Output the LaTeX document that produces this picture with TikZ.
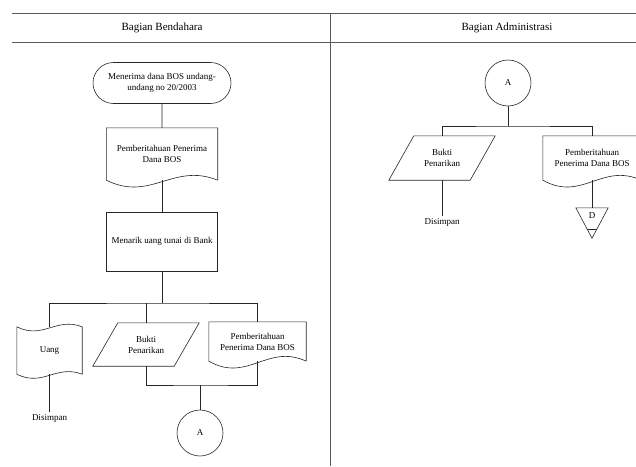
\documentclass[tikz,border=0pt]{standalone}
\usepackage{fontspec}
\setmainfont{Liberation Serif}
\usepackage{tikz}
\usetikzlibrary{positioning}
\usetikzlibrary{shapes.misc, calc}

\newcommand{\docshape}[1]{\draw[flowline] (#1.south east) -- (#1.north east) -- (#1.north west) -- (#1.south west)
  .. controls ($(#1.south west)!0.4!(#1.south east)+(0,22)$) and ($(#1.south west)!0.6!(#1.south east)+(0,-18)$) .. (#1.south east);}
\newcommand{\tapeshape}[1]{\draw[flowline] (#1.north west)
  .. controls ($(#1.north west)!0.4!(#1.north east)+(0,13)$) and ($(#1.north west)!0.6!(#1.north east)+(0,-10)$) .. (#1.north east)
  -- (#1.south east)
  .. controls ($(#1.south west)!0.6!(#1.south east)+(0,-10)$) and ($(#1.south west)!0.4!(#1.south east)+(0,13)$) .. (#1.south west) -- cycle;}
\newcommand{\parashape}[1]{\draw[flowline] ([xshift=-12.5]#1.south west) -- ([xshift=12.5]#1.north west) -- ([xshift=12.5]#1.north east) -- ([xshift=-12.5]#1.south east) -- cycle;}
\newcommand{\offshape}[1]{\draw[flowline] (#1.north west) -- (#1.north east) -- (#1.south) -- cycle;
  \draw[flowline] ($(#1.north west)!0.7!(#1.south)$) -- ($(#1.north east)!0.7!(#1.south)$);}

\begin{document}
\begin{tikzpicture}[x=1pt,y=-1pt,
  flowline/.style={draw=black!85,line width=0.6pt},
  lane/.style={draw=black!65,line width=1pt},
  txt/.style={font=\fontsize{9}{11}\selectfont,align=center,inner sep=2pt},
  lanetitle/.style={font=\fontsize{11}{13}\selectfont}]
\useasboundingbox (0,0) rectangle (636,466);
\clip (0,0) rectangle (636,466);

% lanes
\draw[lane] (12,13) -- (636,13);
\draw[lane] (12,42) -- (636,42);
\draw[lane] (330,13) -- (330,466);
\node[lanetitle] (laneBend) at (162,28) {Bagian Bendahara};
\node[lanetitle] (laneAdm) at (507,28) {Bagian Administrasi};

% Bagian Bendahara
\node[rounded rectangle,flowline,txt,minimum width=142,minimum height=41] (terima) at (162,83) {Menerima dana BOS undang-\\undang no 20/2003};
\node[txt,minimum width=111,minimum height=52] (beritaA) at (162,154) {Pemberitahuan Penerima\\Dana BOS};
\docshape{beritaA}
\node[txt,flowline,minimum width=111,minimum height=59] (tarik) at (162,241.5) {Menarik uang tunai di Bank};
\coordinate (busA) at (162,303);
\node[txt,minimum width=65,minimum height=47] (uang) at (49.5,350.5) {Uang};
\tapeshape{uang}
\node[txt,minimum width=81,minimum height=43] (buktiA) at (146,344.5) {Bukti\\Penarikan};
\parashape{buktiA}
\node[txt,minimum width=97,minimum height=39] (beritaB) at (257.5,341.5) {Pemberitahuan\\Penerima Dana BOS};
\docshape{beritaB}
\coordinate (busB) at (200,385);
\node[circle,flowline,txt,minimum size=46] (connA) at (200,433) {A};
\node[txt] (simpanA) at (49.5,418) {Disimpan};

\draw[flowline] (terima) -- (beritaA);
\draw[flowline] (beritaA) -- (tarik);
\draw[flowline] (tarik) -- (busA);
\draw[flowline] (uang.north) |- (busA) -| (beritaB.north);
\draw[flowline] (buktiA.north) -- (buktiA.north |- busA);
\draw[flowline] (buktiA.south) |- (busB) -| (beritaB.south);
\draw[flowline] (busB) -- (connA);
\draw[flowline] (uang) -- (simpanA);

% Bagian Administrasi
\node[circle,flowline,txt,minimum size=46] (connB) at (508,83) {A};
\coordinate (busC) at (508,126);
\node[txt,minimum width=81,minimum height=44] (buktiB) at (442,158) {Bukti\\Penarikan};
\parashape{buktiB}
\node[txt,minimum width=98,minimum height=44] (beritaC) at (592,158) {Pemberitahuan\\Penerima Dana BOS};
\docshape{beritaC}
\node[txt] (simpanB) at (442,222) {Disimpan};
\node[txt,minimum width=32,minimum height=30,text depth=14pt] (arsipD) at (592,223) {D};
\offshape{arsipD}

\draw[flowline] (connB) -- (busC);
\draw[flowline] (buktiB.north) |- (busC) -| (beritaC.north);
\draw[flowline] (buktiB) -- (simpanB);
\draw[flowline] (beritaC) -- (arsipD);

\end{tikzpicture}
\end{document}
